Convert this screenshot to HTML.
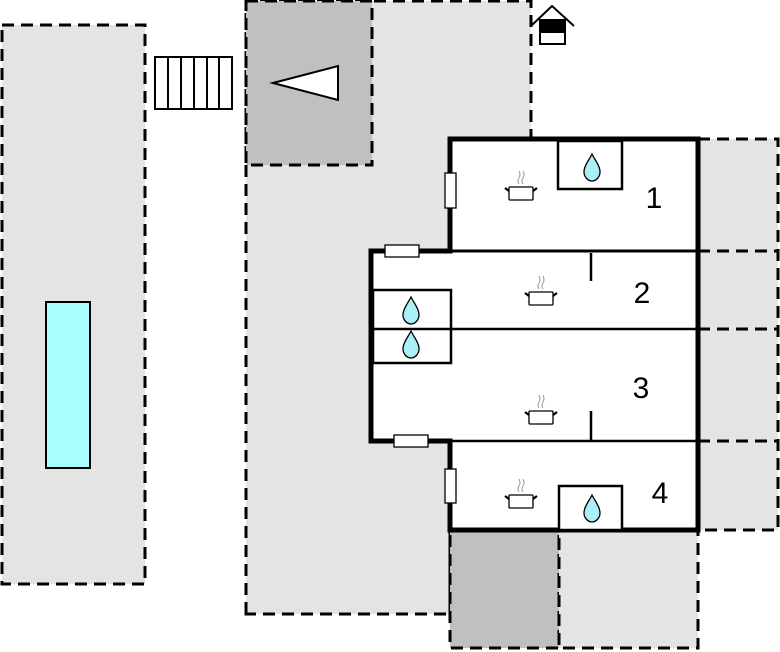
<!DOCTYPE html>
<html><head><style>html,body{margin:0;padding:0;background:#fff}svg{display:block}</style></head>
<body>
<svg width="780" height="652" viewBox="0 0 780 652" xmlns="http://www.w3.org/2000/svg">
<defs>
<g id="pot">
<rect x="-12" y="-6" width="24" height="13" rx="1" fill="#fff" stroke="#000" stroke-width="1.3"/>
<path d="M-12,-2 L-16,-5 M12,-2 L16,-5" stroke="#000" stroke-width="2.2"/>
<path d="M-2,-9 q-2,-3 0,-6 q2,-3 0,-7 M2,-9 q-2,-3 0,-6 q2,-3 0,-7" stroke="#999" stroke-width="1" fill="none"/>
</g>
<g id="drop">
<path d="M0,-14 C3,-8 8,-2 8,4 C8,9 4,13 0,13 C-4,13 -8,9 -8,4 C-8,-2 -3,-8 0,-14 Z" fill="#aaf0f6" stroke="#000" stroke-width="1.3"/>
</g>
</defs>
<g stroke="#000" stroke-width="3" stroke-dasharray="12,7">
<rect x="2" y="25" width="143" height="559" fill="#e4e4e4"/>
<path d="M246,614 L246,1 L531,1 L531,139 L450,139 L450,614 Z" fill="#e4e4e4"/>
<rect x="246" y="1" width="126" height="164" fill="#c0c0c0"/>
<rect x="698" y="139" width="80" height="391" fill="#e4e4e4"/>
<rect x="450" y="530" width="109" height="118" fill="#c0c0c0"/>
<rect x="559" y="530" width="139" height="118" fill="#e4e4e4"/>
<path d="M698,251 H778 M698,329 H778 M698,441 H778" fill="none"/>
</g>
<rect x="46" y="302" width="44" height="166" fill="#aff" stroke="#000" stroke-width="2"/>
<g fill="#fff" stroke="#000" stroke-width="2">
<rect x="155" y="57" width="77" height="52"/>
<path d="M168,57V109 M181,57V109 M194,57V109 M207,57V109 M219,57V109"/>
<polygon points="273,83 338,66 338,100"/>
</g>
<g stroke="#000" stroke-width="2">
<path d="M531,26 L552,6 L574,26" fill="none"/>
<rect x="540" y="20" width="25" height="12" fill="#000"/>
<rect x="540" y="32" width="25" height="12" fill="#fff"/>
</g>
<path d="M450,139 H698 V530 H450 V441 H371 V251 H450 Z" fill="#fff" stroke="#000" stroke-width="5"/>
<g stroke="#000" fill="none">
<path d="M450,251 H698" stroke-width="3"/>
<path d="M371,329 H698" stroke-width="2.5"/>
<path d="M450,441 H698" stroke-width="2.5"/>
<path d="M591,253 V281 M591,411 V441" stroke-width="2.5"/>
<rect x="558" y="141" width="64" height="48" stroke-width="2.5" fill="#fff"/>
<rect x="559" y="486" width="63" height="44" stroke-width="2.5" fill="#fff"/>
<rect x="373" y="290" width="78" height="73" stroke-width="2.5"/>
</g>
<g fill="#fff" stroke="#000" stroke-width="1.3">
<rect x="445" y="173" width="11" height="35"/>
<rect x="385" y="245" width="34" height="12"/>
<rect x="394" y="435" width="34" height="12"/>
<rect x="445" y="469" width="11" height="34"/>
</g>
<use href="#drop" x="592" y="168"/>
<use href="#drop" x="411" y="311"/>
<use href="#drop" x="411" y="345"/>
<use href="#drop" x="592" y="509"/>
<use href="#pot" x="521" y="193"/>
<use href="#pot" x="541" y="298"/>
<use href="#pot" x="541" y="417"/>
<use href="#pot" x="521" y="501"/>
<g font-family="Liberation Sans, sans-serif" font-size="30" fill="#000" text-anchor="middle">
<text x="654" y="208">1</text>
<text x="642" y="303">2</text>
<text x="641" y="398">3</text>
<text x="660" y="503">4</text>
</g>
</svg>
</body></html>
